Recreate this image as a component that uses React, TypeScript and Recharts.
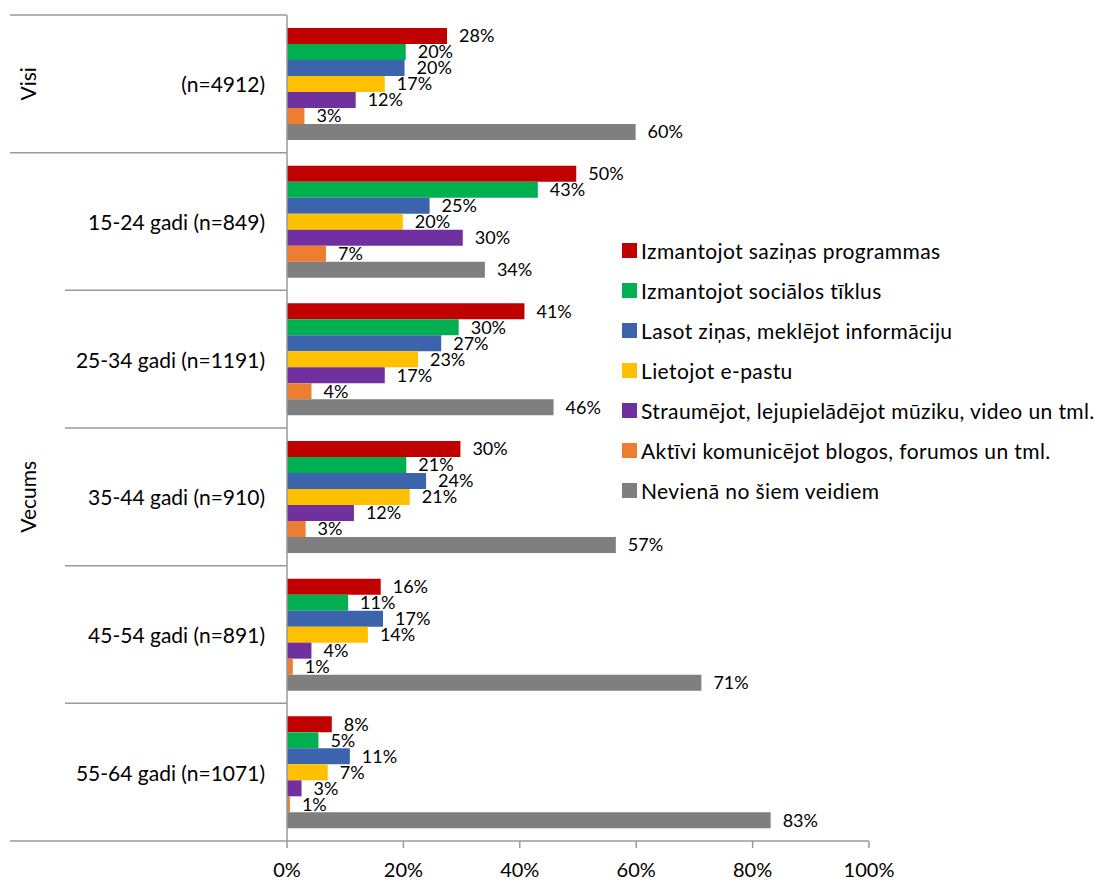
import { BarChart, Bar, XAxis, YAxis, LabelList } from 'recharts'

// category labels (right side of the two-level axis)
const categories = [
  '(n=4912)',
  '15-24 gadi (n=849)',
  '25-34 gadi (n=1191)',
  '35-44 gadi (n=910)',
  '45-54 gadi (n=891)',
  '55-64 gadi (n=1071)',
]
// outer axis level: label + how many categories it covers
const groups = [
  { label: 'Visi', span: 1 },
  { label: 'Vecums', span: 5 },
]

// % values per series, same order as categories
const sazinas = [27.5, 49.7, 40.8, 29.8, 16.1, 7.7]
const socialie = [20.4, 43.1, 29.5, 20.5, 10.5, 5.4]
const zinas = [20.2, 24.5, 26.5, 23.9, 16.5, 10.8]
const epasts = [16.8, 19.9, 22.5, 21.1, 13.9, 7.0]
const straumejot = [11.8, 30.2, 16.8, 11.5, 4.2, 2.5]
const blogi = [3.0, 6.7, 4.2, 3.2, 1.0, 0.5]
const neviena = [59.9, 34.0, 45.8, 56.5, 71.2, 83.1]

const xTicks = [0, 20, 40, 60, 80, 100]

const series = [
  { key: 'sazinas', name: 'Izmantojot saziņas programmas', color: '#C00000', values: sazinas },
  { key: 'socialie', name: 'Izmantojot sociālos tīklus', color: '#00B050', values: socialie },
  { key: 'zinas', name: 'Lasot ziņas, meklējot informāciju', color: '#3C64AC', values: zinas },
  { key: 'epasts', name: 'Lietojot e-pastu', color: '#FFC000', values: epasts },
  { key: 'straumejot', name: 'Straumējot, lejupielādējot mūziku, video un tml.', color: '#7030A0', values: straumejot },
  { key: 'blogi', name: 'Aktīvi komunicējot blogos, forumos un tml.', color: '#ED7D31', values: blogi },
  { key: 'neviena', name: 'Nevienā no šiem veidiem', color: '#7F7F7F', values: neviena },
]

const data = categories.map((name, i) => {
  const row: Record<string, string | number> = { name }
  series.forEach((s) => (row[s.key] = s.values[i]))
  return row
})

const W = 1115
const H = 884
const MARGIN = { top: 15, right: 246, bottom: 13, left: 0 }
const Y_W = 287
const X_H = 30
const BAND = (H - MARGIN.top - MARGIN.bottom - X_H) / categories.length
const LINE = '#9a9a9a'
const FONT = 'Lato, "Open Sans", sans-serif'

// start index of each group
const groupStarts = groups.map((g, gi) => ({
  ...g,
  start: groups.slice(0, gi).reduce((a, b) => a + b.span, 0),
}))

function CategoryTick(props: any) {
  const { x, y, payload, index } = props
  const top = y - BAND / 2
  const grp = groupStarts.find((g) => g.start === index)
  const isLast = index === categories.length - 1
  return (
    <g>
      <line x1={grp ? 10 : 65} x2={Y_W} y1={top} y2={top} stroke={LINE} strokeWidth={1.5} />
      {isLast && <line x1={10} x2={Y_W} y1={top + BAND} y2={top + BAND} stroke={LINE} strokeWidth={1.5} />}
      <text x={x} y={y} textAnchor="end" dominantBaseline="central" fontSize={21} fill="#000" fontFamily={FONT}>
        {payload.value}
      </text>
      {grp && (
        <text
          x={28}
          y={top + (grp.span * BAND) / 2}
          transform={`rotate(-90 28 ${top + (grp.span * BAND) / 2})`}
          textAnchor="middle"
          dominantBaseline="central"
          fontSize={21}
          fill="#000"
          fontFamily={FONT}
        >
          {grp.label}
        </text>
      )}
    </g>
  )
}

function ChartLegend() {
  return (
    <div style={{ position: 'absolute', left: 622, top: 230, fontFamily: FONT }}>
      {series.map((s) => (
        <div key={s.key} style={{ display: 'flex', alignItems: 'center', height: 40 }}>
          <span style={{ width: 15, height: 15, background: s.color, marginRight: 4, flexShrink: 0 }} />
          <span style={{ fontSize: 21, color: '#000', whiteSpace: 'nowrap', letterSpacing: 0.4 }}>{s.name}</span>
        </div>
      ))}
    </div>
  )
}

export default function App() {
  return (
    <div style={{ position: 'absolute', left: 0, top: 0, width: W, height: H, background: '#fff', fontFamily: FONT }}>
      <BarChart width={W} height={H} data={data} layout="vertical" margin={MARGIN} barGap={0}>
        <XAxis
          type="number"
          domain={[0, 100]}
          ticks={xTicks}
          tickFormatter={(v) => `${v}%`}
          height={X_H}
          axisLine={{ stroke: LINE, strokeWidth: 1.5 }}
          tickLine={{ stroke: LINE, strokeWidth: 1.5 }}
          tickSize={7}
          tickMargin={15}
          tick={{ fontSize: 20, fill: '#000', fontFamily: FONT }}
          interval={0}
        />
        <YAxis
          type="category"
          dataKey="name"
          width={Y_W}
          axisLine={{ stroke: LINE, strokeWidth: 1.5 }}
          tickLine={false}
          tickSize={0}
          tickMargin={22}
          tick={<CategoryTick />}
          interval={0}
        />
        {series.map((s) => (
          <Bar key={s.key} dataKey={s.key} name={s.name} fill={s.color} barSize={16} isAnimationActive={false}>
            <LabelList
              dataKey={s.key}
              position="right"
              offset={12}
              formatter={(v: any) => `${Math.round(Number(v))}%`}
              style={{ fontSize: 18, fill: '#000', fontFamily: FONT }}
            />
          </Bar>
        ))}
      </BarChart>
      <ChartLegend />
    </div>
  )
}
